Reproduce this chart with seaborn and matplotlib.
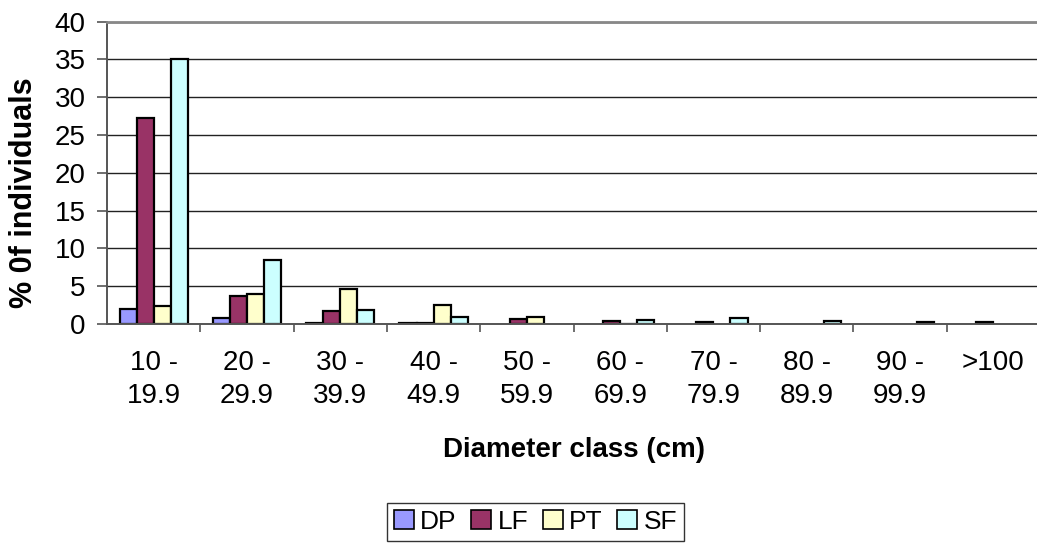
import matplotlib
matplotlib.use("Agg")
import matplotlib.pyplot as plt
from matplotlib.patches import Patch
import seaborn as sns
import pandas as pd

# Diameter classes (cm)
classes = ["10 -\n19.9", "20 -\n29.9", "30 -\n39.9", "40 -\n49.9", "50 -\n59.9",
           "60 -\n69.9", "70 -\n79.9", "80 -\n89.9", "90 -\n99.9", ">100"]

# Percentage of individuals per site
dp = [2.0, 0.75, 0.15, 0.1, 0.0, 0.0, 0.0, 0.0, 0.0, 0.0]
lf = [27.3, 3.7, 1.7, 0.1, 0.6, 0.35, 0.2, 0.0, 0.0, 0.2]
pt = [2.4, 4.0, 4.6, 2.5, 0.95, 0.05, 0.0, 0.0, 0.0, 0.0]
sf = [35.0, 8.4, 1.8, 0.9, 0.0, 0.55, 0.8, 0.35, 0.2, 0.0]

sites = ["DP", "LF", "PT", "SF"]
colors = ["#9999FF", "#993366", "#FFFFCC", "#CCFFFF"]

df = pd.DataFrame({
    "class": classes * 4,
    "site": [s for s in sites for _ in classes],
    "value": dp + lf + pt + sf,
})

sns.set_theme(style="white")
plt.rcParams["font.family"] = ["Liberation Sans", "DejaVu Sans"]
plt.rcParams.update({"text.color": "black", "axes.labelcolor": "black",
                     "xtick.labelcolor": "black", "ytick.labelcolor": "black"})

W, H = 1037, 544
fig = plt.figure(figsize=(W / 100, H / 100), dpi=100)
ax = fig.add_axes([107 / W, 220 / H, 933 / W, 302.5 / H])

sns.barplot(data=df, x="class", y="value", hue="site", order=classes,
            hue_order=sites, palette=colors, saturation=1, width=0.73,
            errorbar=None, edgecolor="black", linewidth=1.6, ax=ax,
            legend=False)

# empty classes show no bar
for p in ax.patches:
    if p.get_height() == 0:
        p.set_visible(False)

ax.set_xlim(-0.5, 9.5)
ax.set_ylim(0, 40)
ax.set_yticks(range(0, 41, 5))
ax.yaxis.grid(True, color="#222222", linewidth=1)
ax.set_axisbelow(True)

# category separators as minor ticks
ax.set_xticks([i + 0.5 for i in range(len(classes))], minor=True)
ax.tick_params(axis="x", which="major", length=0, labelsize=20, pad=19)
ax.tick_params(axis="x", which="minor", length=6, width=1.2, color="#555555",
               direction="out", bottom=True)
ax.tick_params(axis="y", length=7, width=1.2, color="#555555", direction="out",
               left=True, labelsize=20, pad=8.5)
for t in ax.get_xticklabels():
    t.set_linespacing(1.35)

for side in ("left", "bottom"):
    ax.spines[side].set_color("#555555")
    ax.spines[side].set_linewidth(1.4)
ax.spines["top"].set_color("#888888")
ax.spines["top"].set_linewidth(2)
ax.spines["right"].set_visible(False)

ax.set_xlabel("Diameter class (cm)", fontsize=20, fontweight="bold")
ax.set_ylabel("% 0f individuals", fontsize=22, fontweight="bold")
ax.xaxis.set_label_coords(0.5, -0.415)
ax.xaxis.label.set_va("center")
ax.yaxis.set_label_coords(-0.089, 0.433)
ax.yaxis.label.set_va("center")

handles = [Patch(facecolor=c, edgecolor="black", linewidth=1.2, label=s)
           for s, c in zip(sites, colors)]
leg = fig.legend(handles=handles, ncol=4, loc="center",
                 bbox_to_anchor=(535.5 / W, 1 - 522 / H), fontsize=19,
                 frameon=True, fancybox=False, edgecolor="black",
                 handlelength=0.75, handleheight=0.75, handletextpad=0.25,
                 columnspacing=0.55, borderpad=0.25, borderaxespad=0)
leg.get_frame().set_linewidth(1)

fig.savefig("out.png", dpi=100)
